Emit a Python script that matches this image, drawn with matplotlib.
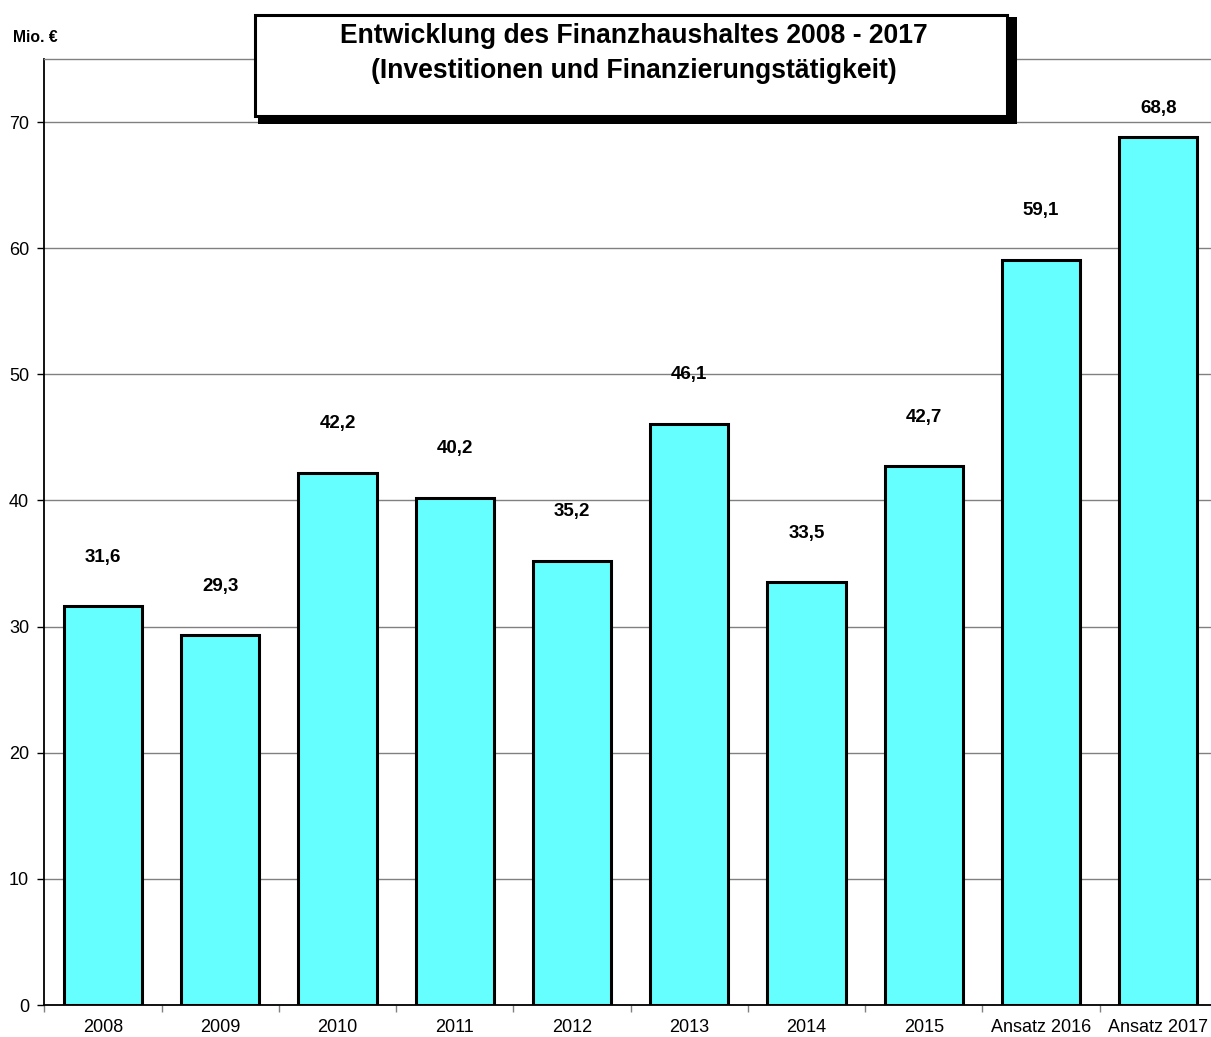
import matplotlib
matplotlib.use("Agg")
import matplotlib.pyplot as plt
from matplotlib.patches import Rectangle
from matplotlib.ticker import FixedLocator, NullFormatter

plt.rcParams["font.family"] = ["Liberation Sans", "DejaVu Sans"]

categories = ["2008", "2009", "2010", "2011", "2012", "2013", "2014", "2015",
              "Ansatz 2016", "Ansatz 2017"]
values = [31.6, 29.3, 42.2, 40.2, 35.2, 46.1, 33.5, 42.7, 59.1, 68.8]
y_ticks = [0, 10, 20, 30, 40, 50, 60, 70]
title_lines = ["Entwicklung des Finanzhaushaltes 2008 - 2017",
               "(Investitionen und Finanzierungstätigkeit)"]

W, H = 1211, 1037
fig = plt.figure(figsize=(W / 100, H / 100), dpi=100)

# plot area in pixel coordinates
left, right, top, bottom = 44.4, 1217.0, 59.0, 1005.0
ax = fig.add_axes([left / W, 1 - bottom / H, (right - left) / W, (bottom - top) / H])

x = list(range(len(categories)))
ax.bar(x, values, width=0.667, color="#66FFFF", edgecolor="black",
       linewidth=2.2, zorder=3)

ax.set_xlim(-0.5, len(categories) - 0.5)
ax.set_ylim(0, 75)

ax.set_yticks(y_ticks)
ax.set_yticklabels([str(t) for t in y_ticks], fontsize=13)
ax.yaxis.grid(True, color="#808080", linewidth=1.0, zorder=0)
ax.tick_params(axis="y", length=5, width=1, color="black", pad=6)

ax.set_xticks(x)
ax.set_xticklabels(categories, fontsize=13)
ax.tick_params(axis="x", which="major", length=0, pad=10)
ax.xaxis.set_minor_locator(FixedLocator([i + 0.5 for i in range(-1, len(categories))]))
ax.xaxis.set_minor_formatter(NullFormatter())
ax.tick_params(axis="x", which="minor", length=5, width=1, color="#808080")

ax.spines["right"].set_visible(False)
ax.spines["top"].set_color("#808080")
ax.spines["top"].set_linewidth(1.0)
ax.spines["left"].set_linewidth(1.3)
ax.spines["bottom"].set_linewidth(1.3)

# value labels above each bar, kept inside the plot area
for xi, v in zip(x, values):
    ax.text(xi, min(v + 3.9, 71.1), f"{v:.1f}".replace(".", ","),
            ha="center", va="center", fontsize=13.5, fontweight="bold", zorder=4)

# unit label
fig.text(13 / W, 1 - 37 / H, "Mio. €", ha="left", va="center",
         fontsize=11.3, fontweight="bold")

# title box with drop shadow
def px_rect(x0, y0, x1, y1, **kw):
    return Rectangle((x0 / W, 1 - y1 / H), (x1 - x0) / W, (y1 - y0) / H,
                     transform=fig.transFigure, **kw)

fig.patches.append(px_rect(258, 17, 1017, 124, facecolor="black", edgecolor="none", zorder=5))
fig.patches.append(px_rect(254.5, 15.5, 1007, 115.5, facecolor="white", edgecolor="black",
                           linewidth=2.2, zorder=6))
for line, baseline in zip(title_lines, (43, 78)):
    fig.text(634 / W, 1 - baseline / H, line, ha="center", va="baseline",
             fontsize=19.1, fontweight="bold", zorder=7)

fig.savefig("out.png", dpi=100)
